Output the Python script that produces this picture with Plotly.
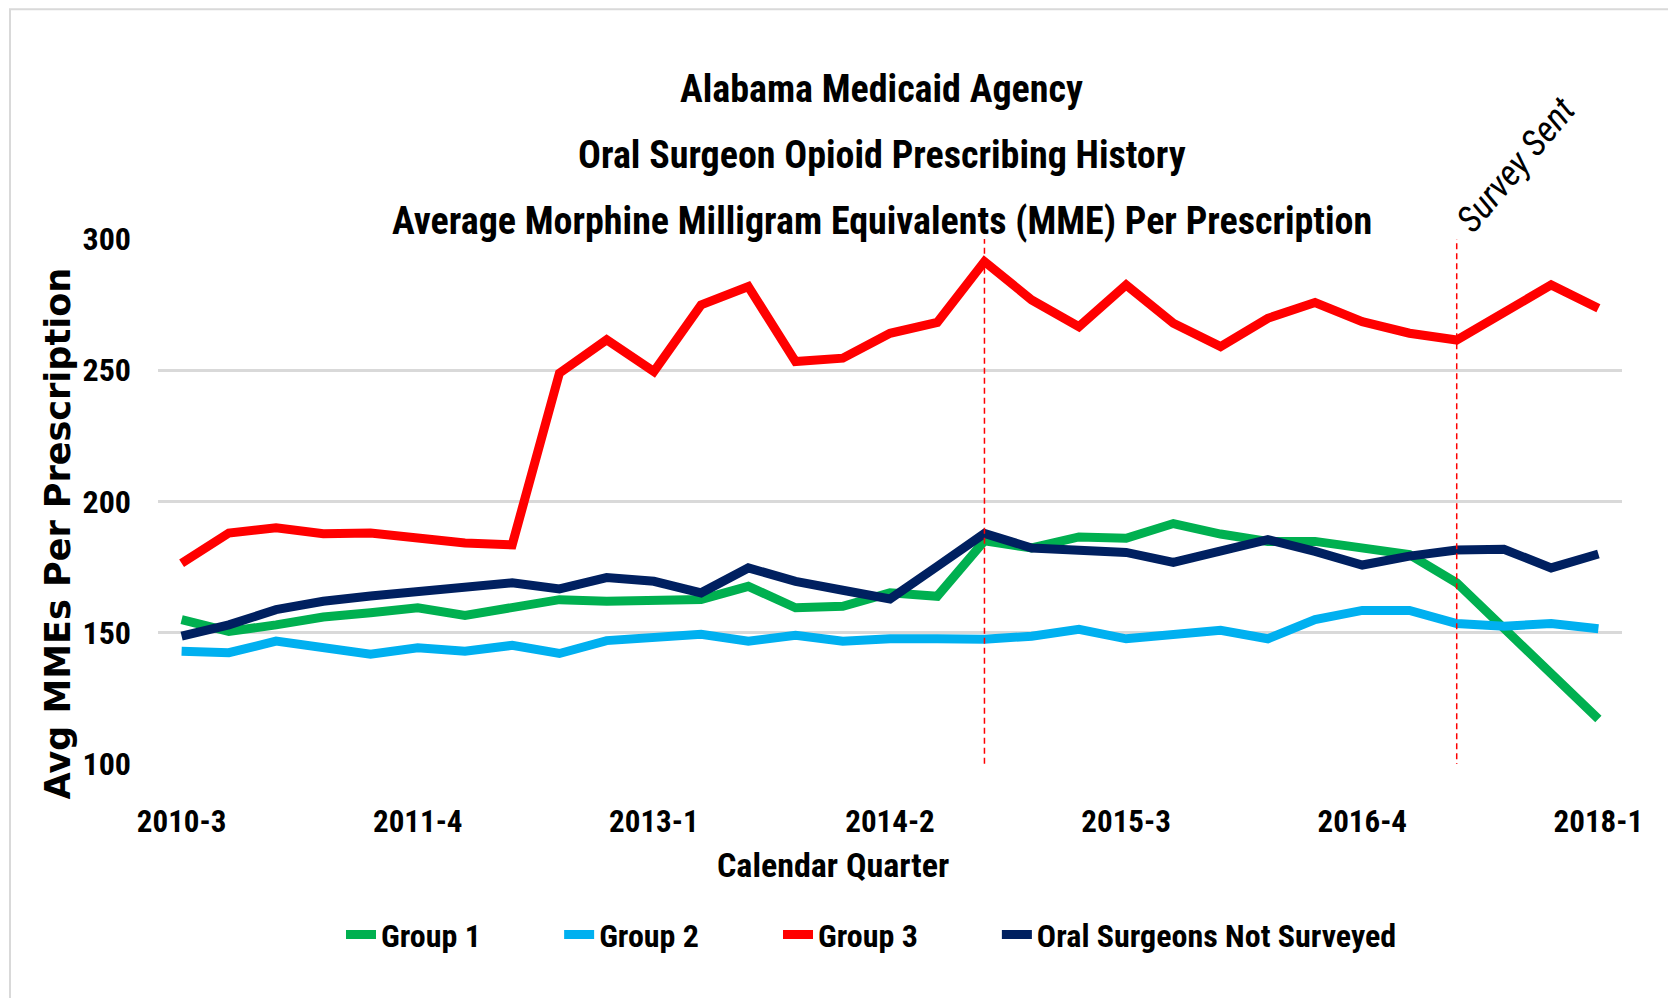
"""Alabama Medicaid oral surgeon opioid prescribing chart."""

import plotly.graph_objects as go

quarters = [
    "2010-3", "2010-4", "2011-1", "2011-2", "2011-3", "2011-4", "2012-1", "2012-2",
    "2012-3", "2012-4", "2013-1", "2013-2", "2013-3", "2013-4", "2014-1", "2014-2",
    "2014-3", "2014-4", "2015-1", "2015-2", "2015-3", "2015-4", "2016-1", "2016-2",
    "2016-3", "2016-4", "2017-1", "2017-2", "2017-3", "2017-4", "2018-1",
]
tick_labels = ["2010-3", "2011-4", "2013-1", "2014-2", "2015-3", "2016-4", "2018-1"]

group1 = [155, 150.5, 153, 156, 157.6, 159.5, 156.6, 159.5, 162.6, 162, 162, 162.7, 167.7, 159.5, 160.1, 165.2,
          163.9, 185, 182.3, 186.5, 186, 191.6, 187.6, 184.8, 184.8, 182.5, 179.8, 169, 151.9, 134.8, 117.1]
group2 = [143, 142.4, 146.8, 144, 141.8, 144.3, 143, 145.2, 142.1, 147, 148.5, 149.4, 146.8, 149, 146.8, 147.7,
          147.7, 147.5, 148.7, 151.3, 147.7, 149.6, 150.9, 147.7, 155, 158.5, 158.5, 153.5, 152.5, 153.5, 151.5]
group3 = [176.5, 188, 190, 187.7, 188, 186, 184.2, 183.5, 248.9, 261.6, 249.5, 274.9, 281.9, 253.3, 254.6, 264.1,
          268.2, 291.4, 276.8, 266.6, 282.5, 267.9, 259, 269.8, 275.8, 268.5, 264.1, 261.5, 271.7, 282.5, 273.6]
not_surveyed = [148.7, 153, 158.8, 162, 164, 165.8, 168, 169, 166.7, 171, 169.6, 165.2, 174.7, 169.6, 166.2, 162.9,
                175.3, 187.8, 182.3, 181.7, 180.6, 176.8, 181.3, 185.5, 181, 175.8, 179.2, 181.5, 181.8, 174.7, 180]

series_names = ["Group 1", "Group 2", "Group 3", "Oral Surgeons Not Surveyed"]
series_colors = ["#00B050", "#00B0F0", "#FF0000", "#002060"]

marker_quarters = ["2014-4", "2017-2"]
survey_quarter = "2017-2"

title_lines = [
    "Alabama Medicaid Agency",
    "Oral Surgeon Opioid Prescribing History",
    "Average Morphine Milligram Equivalents (MME) Per Prescription",
]

NARROW = "Liberation Sans Narrow, Arial Narrow, Roboto Condensed, sans-serif"
legend_ids = ["legend", "legend2", "legend3", "legend4"]
legend_x = [0.125, 0.274, 0.4235, 0.573]

fig = go.Figure()
for name, values, color, lg in zip(series_names, [group1, group2, group3, not_surveyed], series_colors, legend_ids):
    fig.add_trace(go.Scatter(x=list(range(len(quarters))), y=values, name=name, mode="lines",
                             line=dict(color=color, width=9), hoverinfo="y+name",
                             text=quarters, legend=lg))

# dashed red reference lines
for q, bottom in zip(marker_quarters, [92.5, 98]):
    xi = quarters.index(q)
    fig.add_shape(type="line", xref="x", yref="y", x0=xi, x1=xi, y0=bottom, y1=300,
                  line=dict(color="#FF0000", width=1.5, dash="6px,4px"))

fig.add_annotation(x=quarters.index(survey_quarter), y=300, xref="x", yref="y",
                   text="<i>Survey Sent</i>", showarrow=False, textangle=-50,
                   xanchor="left", yanchor="bottom", xshift=-12, yshift=-4,
                   font=dict(family=NARROW, size=36, color="#000000"))

for i, line in enumerate(title_lines):
    fig.add_annotation(x=0.4945, y=[1.2855, 1.1599, 1.0343][i], xref="paper", yref="paper",
                       text=line, showarrow=False, xanchor="center", yanchor="middle",
                       font=dict(family=NARROW, size=38, color="#000000", weight="bold"))

fig.add_annotation(x=0.461, y=-0.193, xref="paper", yref="paper", text="Calendar Quarter",
                   showarrow=False, xanchor="center", yanchor="middle",
                   font=dict(family=NARROW, size=34, color="#000000", weight="bold"))
fig.add_annotation(x=-0.068, y=0.44, xref="paper", yref="paper", text="<b>Avg MMEs Per Prescription</b>",
                   showarrow=False, textangle=-90, xanchor="center", yanchor="middle",
                   font=dict(family="DejaVu Sans, Verdana, sans-serif", size=35, color="#000000"))

# chart border
fig.add_shape(type="rect", xref="paper", yref="paper", x0=-0.1011, x1=1.04, y0=-0.4525, y1=1.4378,
              line=dict(color="#D9D9D9", width=2), layer="below")

legend_style = dict(orientation="h", y=-0.325, xanchor="left", yanchor="middle",
                    font=dict(family=NARROW, size=32, color="#000000", weight="bold"),
                    bgcolor="rgba(0,0,0,0)")

fig.update_layout(
    width=1660,
    height=990,
    margin=dict(l=150, r=46, t=231, b=234),
    paper_bgcolor="white",
    plot_bgcolor="white",
    showlegend=True,
    xaxis=dict(range=[-0.5, 30.5], tickmode="array",
               tickvals=[quarters.index(t) for t in tick_labels], ticktext=tick_labels,
               showgrid=False, zeroline=False, showline=False, ticks="",
               ticklabelstandoff=36,
               tickfont=dict(family=NARROW, size=31, color="#000000", weight="bold")),
    yaxis=dict(range=[100, 300], tickvals=[100, 150, 200, 250, 300], showgrid=True,
               gridcolor="#D9D9D9", gridwidth=3, zeroline=False, showline=False, ticks="",
               ticklabelstandoff=26,
               tickfont=dict(family=NARROW, size=32, color="#000000", weight="bold")),
)
for lg, lx in zip(legend_ids, legend_x):
    fig.update_layout({lg: dict(legend_style, x=lx)})

fig.write_html("out.html")
